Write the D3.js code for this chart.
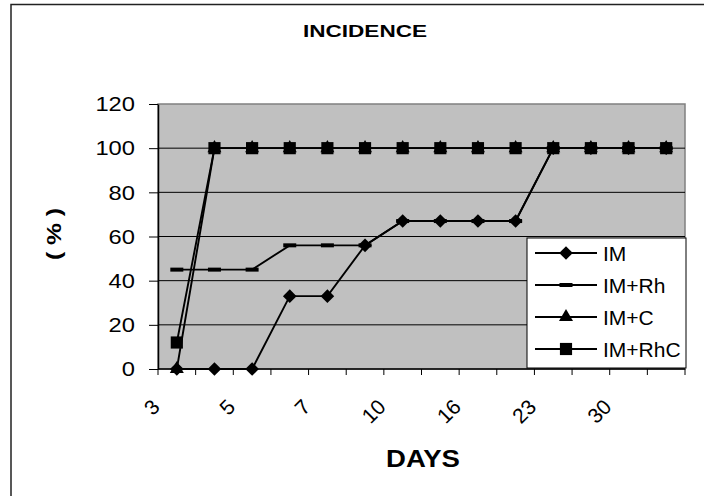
<!DOCTYPE html>
<html>
<head>
<meta charset="utf-8">
<script src="https://cdn.jsdelivr.net/npm/d3@7/dist/d3.min.js"></script>
<style>
  html, body { margin: 0; padding: 0; background: #fff; }
  svg { display: block; font-family: "Liberation Sans", Arial, sans-serif; }
</style>
</head>
<body>
<svg id="chart" width="704" height="496"></svg>
<script>
// Sampling days (only every other one is labelled on the axis)
const days = ["3", "4", "5", "6", "7", "8", "10", "13", "16", "20", "23", "27", "30", "33"];
const seriesNames = ["IM", "IM+Rh", "IM+C", "IM+RhC"];
const imValues     = [0, 0, 0, 33, 33, 56, 67, 67, 67, 67, 100, 100, 100, 100];
const imRhValues   = [45, 45, 45, 56, 56, 56, 67, 67, 67, 67, 100, 100, 100, 100];
const imCValues    = [0, 100, 100, 100, 100, 100, 100, 100, 100, 100, 100, 100, 100, 100];
const imRhCValues  = [12, 100, 100, 100, 100, 100, 100, 100, 100, 100, 100, 100, 100, 100];
const yTicks = [0, 20, 40, 60, 80, 100, 120];

const series = [
  { name: seriesNames[0], values: imValues,    marker: "diamond" },
  { name: seriesNames[1], values: imRhValues,  marker: "dash" },
  { name: seriesNames[2], values: imCValues,   marker: "triangle" },
  { name: seriesNames[3], values: imRhCValues, marker: "square" }
];

const svg = d3.select("#chart");
const plot = { left: 158, right: 685, top: 104, bottom: 369 };

const x = d3.scaleBand().domain(days).range([plot.left, plot.right]).padding(0);
const y = d3.scaleLinear().domain([0, 120]).range([plot.bottom, plot.top]);

// Outer chart frame
svg.append("rect")
  .attr("x", 11).attr("y", 4.5)
  .attr("width", 720).attr("height", 520)
  .attr("fill", "#fff").attr("stroke", "#222").attr("stroke-width", 1.5);

// Plot area
svg.append("rect")
  .attr("x", plot.left).attr("y", plot.top)
  .attr("width", plot.right - plot.left).attr("height", plot.bottom - plot.top)
  .attr("fill", "#c0c0c0").attr("stroke", "#808080").attr("stroke-width", 1.5);

// Horizontal gridlines
svg.append("g").selectAll("line")
  .data(yTicks.filter(v => v > 0 && v < 120))
  .join("line")
  .attr("x1", plot.left).attr("x2", plot.right)
  .attr("y1", d => y(d)).attr("y2", d => y(d))
  .attr("stroke", "#000").attr("stroke-width", 1);

// Y axis
const yAxis = svg.append("g")
  .attr("transform", `translate(${plot.left},0)`)
  .call(d3.axisLeft(y).tickValues(yTicks).tickSize(9).tickSizeOuter(0).tickPadding(14));
yAxis.select(".domain").attr("stroke", "#000").attr("stroke-width", 1.5);
yAxis.selectAll(".tick line").attr("stroke", "#000").attr("stroke-width", 1);
yAxis.selectAll(".tick text")
  .attr("font-size", 21).attr("fill", "#000")
  .attr("font-family", "'Liberation Sans', Arial, sans-serif")
  .attr("textLength", d => String(d).length * 13.2)
  .attr("lengthAdjust", "spacingAndGlyphs");

// X axis line and tick marks at category boundaries
svg.append("line")
  .attr("x1", plot.left).attr("x2", plot.right)
  .attr("y1", plot.bottom).attr("y2", plot.bottom)
  .attr("stroke", "#000").attr("stroke-width", 1.5);
const boundaries = days.map(d => x(d)).concat([x.range()[1]]);
svg.append("g").selectAll("line")
  .data(boundaries)
  .join("line")
  .attr("x1", d => d).attr("x2", d => d)
  .attr("y1", plot.bottom).attr("y2", plot.bottom + 6)
  .attr("stroke", "#000").attr("stroke-width", 1);

// Rotated category labels (every other day)
svg.append("g").selectAll("text")
  .data(days.filter((d, i) => i % 2 === 0))
  .join("text")
  .attr("transform", d => `translate(${x(d) + x.bandwidth() / 2 - 21},${plot.bottom + 34}) rotate(-45)`)
  .attr("text-anchor", "end")
  .attr("dominant-baseline", "central")
  .attr("font-size", 21)
  .text(d => d);

// Marker shapes
const diamondPath = "M0,-6.8L6.8,0L0,6.8L-6.8,0Z";
const markerPath = {
  triangle: d3.symbol().type(d3.symbolTriangle).size(85)(),
  square: d3.symbol().type(d3.symbolSquare).size(148)()
};
function drawMarker(g, type) {
  if (type === "dash") {
    g.append("rect").attr("x", -6.5).attr("y", -2).attr("width", 13).attr("height", 4).attr("fill", "#000");
  } else if (type === "diamond") {
    g.append("path").attr("d", diamondPath).attr("fill", "#000");
  } else {
    g.append("path").attr("d", markerPath[type]).attr("fill", "#000");
  }
}

const line = d3.line()
  .x((v, i) => x(days[i]) + x.bandwidth() / 2)
  .y(v => y(v));

series.forEach(s => {
  const g = svg.append("g");
  g.append("path")
    .attr("d", line(s.values))
    .attr("fill", "none").attr("stroke", "#000").attr("stroke-width", 1.9);
  s.values.forEach((v, i) => {
    const m = g.append("g")
      .attr("transform", `translate(${x(days[i]) + x.bandwidth() / 2},${y(v)})`);
    drawMarker(m, s.marker);
  });
});

// Legend
const legend = svg.append("g");
legend.append("rect")
  .attr("x", 527).attr("y", 238).attr("width", 159).attr("height", 130)
  .attr("fill", "#fff").attr("stroke", "#000").attr("stroke-width", 1);
const legendRowY = d3.scalePoint().domain(seriesNames).range([253, 349]);
series.forEach(s => {
  const ly = legendRowY(s.name);
  legend.append("line")
    .attr("x1", 535).attr("x2", 597).attr("y1", ly).attr("y2", ly)
    .attr("stroke", "#000").attr("stroke-width", 1.9);
  drawMarker(legend.append("g").attr("transform", `translate(566,${ly})`), s.marker);
  legend.append("text")
    .attr("x", 603).attr("y", ly)
    .attr("dominant-baseline", "central")
    .attr("font-size", 21)
    .text(s.name);
});

// Titles
svg.append("text")
  .attr("x", 365).attr("y", 37)
  .attr("text-anchor", "middle")
  .attr("font-size", 17).attr("font-weight", "bold")
  .attr("textLength", 124).attr("lengthAdjust", "spacingAndGlyphs")
  .text("INCIDENCE");

svg.append("text")
  .attr("x", 423).attr("y", 467)
  .attr("text-anchor", "middle")
  .attr("font-size", 23).attr("font-weight", "bold")
  .attr("textLength", 74).attr("lengthAdjust", "spacingAndGlyphs")
  .text("DAYS");

svg.append("text")
  .attr("transform", "translate(61,234) rotate(-90)")
  .attr("text-anchor", "middle")
  .attr("font-size", 21).attr("font-weight", "bold")
  .attr("textLength", 52).attr("lengthAdjust", "spacingAndGlyphs")
  .text("( % )");
</script>
</body>
</html>
